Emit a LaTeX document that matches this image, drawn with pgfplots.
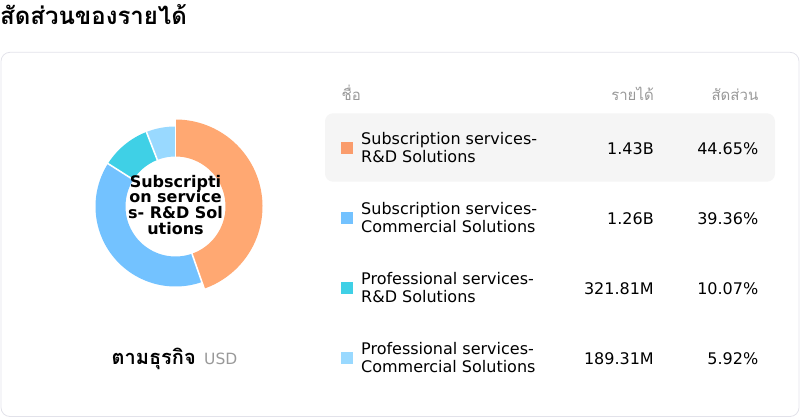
\documentclass[border=0pt]{standalone}
\usepackage{fontspec}
\setmainfont{DejaVu Sans}
\newfontfamily\thai[Script=Thai]{Loma}
\usepackage{pgfplots}
\usepackage{pgfplotstable}
\usepgfplotslibrary{polar}
\pgfplotsset{compat=1.18}
\definecolor{cOrange}{HTML}{FA9C6C}
\definecolor{cOrangeE}{HTML}{FFA872}
\definecolor{cBlue}{HTML}{73C2FF}
\definecolor{cTeal}{HTML}{3FD0E6}
\definecolor{cLight}{HTML}{99D9FF}
\definecolor{cGray}{HTML}{999999}
\definecolor{cBorder}{HTML}{E2E2EA}
\definecolor{cHi}{HTML}{F5F5F5}
\pgfplotstableread{
share
44.65
39.36
10.07
5.92
}\shares
\begin{document}
\begin{tikzpicture}[x=1bp,y=1bp]
\path (0,0) rectangle (800,418);
% card
\draw[cBorder, line width=0.8bp, rounded corners=9bp] (1,1.5) rectangle (799,365.7);
% title
\node[anchor=base west, inner sep=0] at (0,393.5) {\thai\bfseries\fontsize{24bp}{28bp}\selectfont สัดส่วนของรายได้};
% angles
\pgfplotstablegetelem{0}{share}\of\shares \let\sA\pgfplotsretval
\pgfplotstablegetelem{1}{share}\of\shares \let\sB\pgfplotsretval
\pgfplotstablegetelem{2}{share}\of\shares \let\sC\pgfplotsretval
\pgfplotstablegetelem{3}{share}\of\shares \let\sD\pgfplotsretval
\pgfmathsetmacro\aA{90}
\pgfmathsetmacro\aB{\aA-3.6*\sA}
\pgfmathsetmacro\aC{\aB-3.6*\sB}
\pgfmathsetmacro\aD{\aC-3.6*\sC}
\pgfmathsetmacro\aE{\aD-3.6*\sD}
\begin{axis}[hide axis, scale only axis, width=180bp, height=180bp,
  xmin=-90, xmax=90, ymin=-90, ymax=90, clip=false,
  anchor=center, at={(175.5bp,211.5bp)}]
\addplot[draw=cOrangeE, line width=37bp, data cs=polar, domain=\aB:\aA, samples=80, no marks] {68.5};
\addplot[draw=cBlue, line width=30bp, data cs=polar, domain=\aC:\aB, samples=80, no marks] {65};
\addplot[draw=cTeal, line width=30bp, data cs=polar, domain=\aD:\aC, samples=30, no marks] {65};
\addplot[draw=cLight, line width=30bp, data cs=polar, domain=\aE:\aD, samples=30, no marks] {65};
\addplot[white, line width=1.6bp, data cs=polar, no marks] coordinates {(\aA,47) (\aA,90)};
\addplot[white, line width=1.6bp, data cs=polar, no marks] coordinates {(\aB,47) (\aB,90)};
\addplot[white, line width=1.6bp, data cs=polar, no marks] coordinates {(\aC,47) (\aC,90)};
\addplot[white, line width=1.6bp, data cs=polar, no marks] coordinates {(\aD,47) (\aD,90)};
\end{axis}
% center label
\begin{scope}[every node/.style={anchor=base, inner sep=0, font=\bfseries\fontsize{16bp}{16bp}\selectfont}]
\node at (175.5,230.7) {Subscripti};
\node at (175.5,215.1) {on service};
\node at (175.5,199.5) {s- R\&D Sol};
\node at (175.5,184.0) {utions};
\end{scope}
% bottom label
\node[anchor=base east, inner sep=0] at (196,53.5) {\thai\bfseries\fontsize{20bp}{23bp}\selectfont ตามธุรกิจ};
\node[anchor=base west, inner sep=0, text=cGray] at (204,54) {\fontsize{15.5bp}{18bp}\selectfont USD};
% header
\begin{scope}[every node/.style={inner sep=0, text=cGray, font=\thai\fontsize{15bp}{18bp}\selectfont}]
\node[anchor=base west] at (341.5,317.3) {ชื่อ};
\node[anchor=base east] at (654,317.3) {รายได้};
\node[anchor=base east] at (758.5,317.3) {สัดส่วน};
\end{scope}
% highlight row
\fill[cHi, rounded corners=8bp] (325,236.3) rectangle (775,304.7);
% rows
\begin{scope}[every node/.style={inner sep=0, font=\fontsize{16bp}{18bp}\selectfont}]
\fill[cOrange] (341,263.7) rectangle (353,275.7);
\node[anchor=base west] at (361,273.7) {Subscription services-};
\node[anchor=base west] at (361,255.5) {R\&D Solutions};
\node[anchor=base east] at (654,263.9) {1.43B};
\node[anchor=base east] at (758.5,263.9) {44.65\%};
\fill[cBlue] (341,193.7) rectangle (353,205.7);
\node[anchor=base west] at (361,203.7) {Subscription services-};
\node[anchor=base west] at (361,185.5) {Commercial Solutions};
\node[anchor=base east] at (654,193.9) {1.26B};
\node[anchor=base east] at (758.5,193.9) {39.36\%};
\fill[cTeal] (341,123.7) rectangle (353,135.7);
\node[anchor=base west] at (361,133.7) {Professional services-};
\node[anchor=base west] at (361,115.5) {R\&D Solutions};
\node[anchor=base east] at (654,123.9) {321.81M};
\node[anchor=base east] at (758.5,123.9) {10.07\%};
\fill[cLight] (341,53.7) rectangle (353,65.7);
\node[anchor=base west] at (361,63.7) {Professional services-};
\node[anchor=base west] at (361,45.5) {Commercial Solutions};
\node[anchor=base east] at (654,53.9) {189.31M};
\node[anchor=base east] at (758.5,53.9) {5.92\%};
\end{scope}
\end{tikzpicture}
\end{document}
